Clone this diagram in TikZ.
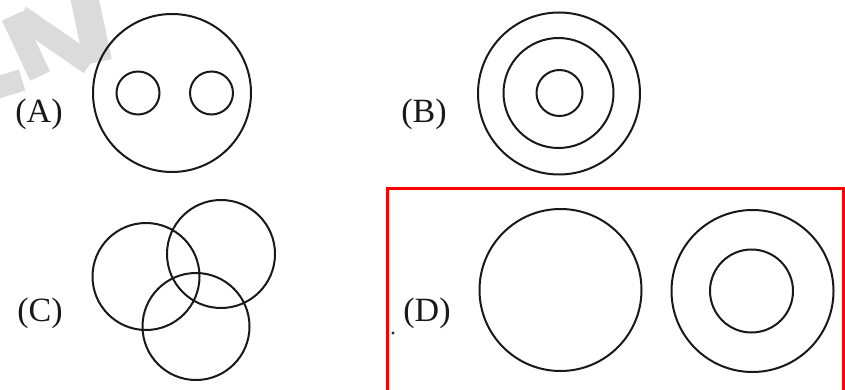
\documentclass[tikz,border=0pt]{standalone}
\usepackage{fontspec}
\setmainfont{Liberation Serif}
\begin{document}
\begin{tikzpicture}[x=1pt,y=-1pt,
  ring/.style={draw=black!90,line width=2pt,circle,inner sep=0pt,fill=none},
  lbl/.style={inner sep=0pt,font=\fontsize{34}{40}\selectfont,text=black!90},
  wmark/.style={draw=gray!28,line width=22pt,line cap=butt},
  frame/.style={draw=red,line width=2.7pt}]
\useasboundingbox (0,0) rectangle (845,390);
\fill[white] (0,0) rectangle (845,390);
% faint watermark
\draw[wmark] (12,16) -- (40,76);
\draw[wmark] (20,16) -- (90,64);
\draw[wmark,line width=28pt] (84,-4) -- (98,62);
\draw[wmark] (-4,88) -- (22,80);
% (A)
\node[lbl] (la) at (39,114) {(A)};
\node[ring,minimum size=158pt] (a0) at (172,93) {};
\node[ring,minimum size=43pt] (a1) at (138,93) {};
\node[ring,minimum size=43pt] (a2) at (211.5,93) {};
% (B)
\node[lbl] (lb) at (424,114) {(B)};
\node[ring,minimum size=162pt] (b0) at (559,93.5) {};
\node[ring,minimum size=110pt] (b1) at (558.5,93) {};
\node[ring,minimum size=46pt] (b2) at (559.5,93) {};
% (C)
\node[lbl] (lc) at (40,313) {(C)};
\node[ring,minimum size=107pt] (c0) at (146,276.5) {};
\node[ring,minimum size=108pt] (c1) at (221,254) {};
\node[ring,minimum size=107pt] (c2) at (196,326.5) {};
% (D) frame
\draw[frame] (387.7,395) -- (387.7,188.3) -- (843.3,188.3) -- (843.3,395);
\fill[black!85] (393,333) circle[radius=1.6pt];
\node[lbl] (ld) at (427,313) {(D)};
\node[ring,minimum size=162pt] (d0) at (560.5,290) {};
\node[ring,minimum size=162pt] (d1) at (752.5,291) {};
\node[ring,minimum size=83pt] (d2) at (751.5,291) {};
\end{tikzpicture}
\end{document}
